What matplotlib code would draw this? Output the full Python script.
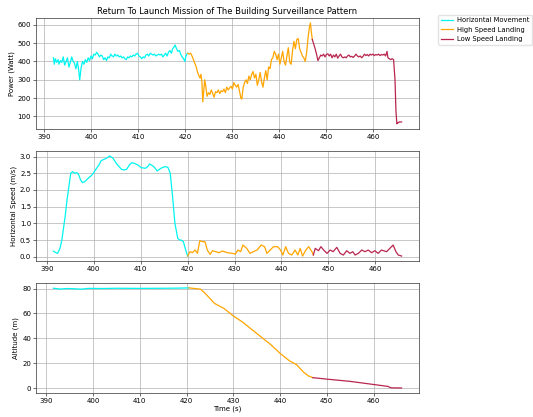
"""Return-to-launch mission plot: power, horizontal speed and altitude."""

from __future__ import annotations

import matplotlib

matplotlib.use("Agg")

import matplotlib.pyplot as plt

# ---- data ----
phases = ["Horizontal Movement", "High Speed Landing", "Low Speed Landing"]
phase_colors = ["#00f5f0", "#ffa500", "#b8264e"]

# power (Watt)
hm_power_t = [
    391.9, 392.1, 392.3, 392.6, 392.9, 393.1, 393.4, 393.7, 394.0, 394.3,
    394.6, 394.9, 395.2, 395.5, 395.8, 396.1, 396.4, 396.7, 397.0, 397.3,
    397.5, 397.8, 398.1, 398.4, 398.7, 399.0, 399.3, 399.6, 399.9, 400.2,
    400.5, 400.8, 401.1, 401.4, 401.7, 402.0, 402.3, 402.6, 402.9, 403.2,
    403.5, 403.8, 404.1, 404.4, 404.7, 405.0, 405.3, 405.6, 405.9, 406.2,
    406.5, 406.8, 407.1, 407.4, 407.7, 408.0, 408.3, 408.6, 408.9, 409.2,
    409.5, 409.8, 410.1, 410.4, 410.7, 411.0, 411.3, 411.6, 411.9, 412.2,
    412.5, 412.8, 413.1, 413.4, 413.7, 414.0, 414.3, 414.6, 414.9, 415.2,
    415.5, 415.8, 416.1, 416.4, 416.7, 417.0, 417.3, 417.6, 417.8, 418.1,
    418.4, 418.7, 419.0, 419.3, 419.6, 419.9, 420.1, 420.3, 420.5,
]
hm_power = [
    420, 385, 415, 395, 410, 385, 405, 395, 425, 380,
    400, 420, 370, 395, 425, 400, 390, 360, 400, 350,
    300, 365, 400, 385, 410, 395, 420, 405, 430, 415,
    440, 435, 450, 440, 425, 435, 430, 410, 420, 405,
    425, 420, 440, 430, 425, 440, 430, 435, 425, 430,
    420, 425, 415, 410, 425, 420, 430, 425, 435, 430,
    440, 445, 430, 425, 415, 425, 420, 435, 440, 430,
    445, 440, 435, 440, 430, 435, 440, 435, 440, 425,
    435, 445, 430, 450, 460, 445, 470, 480, 490, 470,
    455, 460, 440, 425, 415, 400, 430, 440, 445,
]
hsl_power_t = [
    420.5, 420.8, 421.1, 421.4, 421.7, 422.0, 422.3, 422.6, 422.9, 423.1,
    423.3, 423.5, 423.7, 423.9, 424.1, 424.3, 424.6, 424.9, 425.2, 425.5,
    425.8, 426.1, 426.4, 426.7, 427.0, 427.3, 427.6, 427.9, 428.2, 428.5,
    428.8, 429.1, 429.4, 429.7, 430.0, 430.3, 430.6, 430.9, 431.2, 431.5,
    431.8, 432.0, 432.3, 432.6, 432.9, 433.2, 433.5, 433.8, 434.1, 434.4,
    434.7, 435.0, 435.3, 435.6, 435.9, 436.2, 436.5, 436.8, 437.1, 437.4,
    437.7, 438.0, 438.3, 438.6, 438.9, 439.2, 439.5, 439.8, 440.1, 440.4,
    440.7, 441.0, 441.3, 441.6, 441.9, 442.2, 442.5, 442.8, 443.1, 443.4,
    443.7, 444.0, 444.3, 444.6, 444.9, 445.2, 445.5, 445.8, 446.1, 446.4,
    446.6, 446.8, 447.0,
]
hsl_power = [
    445, 440, 445, 430, 410, 390, 370, 340, 320, 310,
    330, 290, 180, 240, 300, 270, 210, 230, 220, 245,
    225, 205, 235, 230, 245, 225, 240, 235, 250, 230,
    260, 245, 255, 265, 250, 285, 270, 260, 275, 240,
    200, 195, 260, 285, 300, 280, 320, 300, 330, 345,
    310, 330, 270, 300, 340, 290, 260, 310, 350, 300,
    370, 360, 410, 420, 455, 440, 410, 440, 385, 420,
    455, 400, 380, 430, 475, 395, 385, 460, 510, 470,
    520, 525, 470, 450, 430, 420, 400, 450, 530, 590,
    610, 560, 520,
]
lsl_power_t = [
    447.0, 447.3, 447.6, 447.9, 448.2, 448.5, 448.8, 449.1, 449.4, 449.7,
    450.0, 450.3, 450.6, 450.9, 451.2, 451.5, 451.8, 452.1, 452.4, 452.7,
    453.0, 453.3, 453.6, 453.9, 454.2, 454.5, 454.8, 455.1, 455.4, 455.7,
    456.0, 456.3, 456.6, 456.9, 457.2, 457.5, 457.8, 458.1, 458.4, 458.7,
    459.0, 459.3, 459.6, 459.9, 460.2, 460.5, 460.8, 461.1, 461.4, 461.7,
    462.0, 462.3, 462.6, 462.9, 463.1, 463.4, 463.7, 464.0, 464.3, 464.6,
    464.8, 465.0, 465.2, 465.5, 465.8, 466.0,
]
lsl_power = [
    520, 495, 470, 440, 405, 420, 435, 430, 440, 425,
    438, 442, 430, 440, 420, 435, 425, 440, 418, 430,
    440, 425, 420, 425, 420, 430, 435, 425, 428, 422,
    430, 440, 430, 425, 430, 420, 428, 440, 432, 438,
    430, 440, 435, 440, 432, 438, 435, 440, 432, 438,
    435, 440, 430, 455, 420, 415, 410, 415, 410, 300,
    130, 60, 65, 70, 70, 70,
]

# horizontal speed (m/s)
hm_speed_t = [
    391.4, 391.8, 392.3, 392.8, 393.2, 393.6, 393.9, 394.3, 394.6, 395.1,
    395.5, 396.0, 396.4, 396.8, 397.2, 397.6, 398.1, 398.8, 399.4, 399.9,
    400.6, 401.1, 401.6, 402.2, 402.7, 403.4, 404.1, 404.8, 405.4, 405.9,
    406.5, 407.0, 407.6, 408.1, 408.6, 409.4, 410.1, 411.0, 411.5, 411.9,
    412.6, 413.1, 413.5, 414.3, 414.8, 415.2, 415.8, 416.3, 416.8, 417.3,
    417.9, 418.3, 418.6, 419.1, 419.6, 420.0,
]
hm_speed = [
    0.17, 0.13, 0.10, 0.25, 0.50, 0.90, 1.20, 1.70, 2.00, 2.50,
    2.55, 2.50, 2.52, 2.45, 2.30, 2.22, 2.25, 2.35, 2.42, 2.50,
    2.65, 2.75, 2.88, 2.92, 2.95, 3.02, 2.95, 2.80, 2.70, 2.62,
    2.60, 2.62, 2.75, 2.82, 2.80, 2.75, 2.67, 2.65, 2.70, 2.78,
    2.72, 2.65, 2.57, 2.65, 2.68, 2.70, 2.68, 2.50, 1.80, 1.00,
    0.55, 0.50, 0.50, 0.45, 0.20, 0.02,
]
hsl_speed_t = [
    420.0, 420.5, 421.0, 421.6, 422.1, 422.6, 423.2, 423.7, 424.2, 424.8,
    425.3, 426.0, 426.7, 427.4, 428.5, 429.5, 430.2, 430.7, 431.3, 431.8,
    432.6, 433.3, 434.0, 434.8, 435.7, 436.4, 436.9, 437.6, 438.3, 439.2,
    439.8, 440.3, 440.9, 441.5, 442.2, 442.9, 443.5, 444.0, 444.5, 445.2,
    445.8, 446.5, 446.8,
]
hsl_speed = [
    0.02, 0.15, 0.12, 0.20, 0.10, 0.48, 0.45, 0.45, 0.20, 0.07,
    0.18, 0.15, 0.12, 0.17, 0.12, 0.10, 0.08, 0.20, 0.15, 0.35,
    0.25, 0.10, 0.15, 0.20, 0.35, 0.30, 0.10, 0.20, 0.30, 0.30,
    0.20, 0.05, 0.30, 0.10, 0.05, 0.20, 0.05, 0.25, 0.02, 0.20,
    0.30, 0.15, 0.05,
]
lsl_speed_t = [
    446.8, 447.2, 447.9, 448.4, 449.0, 449.7, 450.4, 451.0, 451.8, 452.5,
    453.2, 453.9, 454.6, 455.2, 455.7, 456.4, 457.1, 457.8, 458.5, 459.2,
    459.9, 460.6, 461.3, 462.4, 463.1, 463.8, 464.4, 464.9, 465.6,
]
lsl_speed = [
    0.05, 0.25, 0.18, 0.30, 0.20, 0.10, 0.20, 0.15, 0.28, 0.10,
    0.05, 0.18, 0.10, 0.15, 0.05, 0.10, 0.20, 0.15, 0.20, 0.12,
    0.18, 0.10, 0.20, 0.15, 0.25, 0.35, 0.15, 0.05, 0.02,
]

# altitude (m)
hm_alt_t = [391.5, 393.0, 394.5, 396.0, 397.5, 399.0, 402.0, 405.0, 410.0, 415.0, 418.0, 420.5]
hm_alt = [80.2, 79.6, 80.0, 79.8, 79.5, 80.1, 80.0, 80.2, 80.1, 80.2, 80.3, 80.5]
hsl_alt_t = [
    420.5, 423.0, 424.0, 426.0, 428.0, 430.0, 432.0, 434.0, 436.0, 438.0,
    440.0, 442.0, 443.5, 445.0, 446.0, 447.0,
]
hsl_alt = [80.5, 79.5, 76.0, 68.0, 64.0, 58.0, 53.0, 47.0, 41.0, 35.0, 28.0, 22.0, 19.0, 13.0, 10.0, 8.5]
lsl_alt_t = [447.0, 450.0, 455.0, 460.0, 462.0, 463.0, 463.8, 466.0]
lsl_alt = [8.5, 7.3, 5.5, 3.0, 2.0, 1.5, 0.3, 0.2]

FS = 5.0


def style_axis(ax, ylabel: str) -> None:
    """Grid, ticks and label setup shared by the three panels."""
    ax.grid(True, color="#b0b0b0", linewidth=0.5)
    ax.set_axisbelow(True)
    ax.tick_params(labelsize=FS, width=0.4, length=2, pad=1.5)
    for spine in ax.spines.values():
        spine.set_linewidth(0.5)
        spine.set_color("#333333")
    ax.set_ylabel(ylabel, fontsize=FS, labelpad=2)
    ax.set_xticks([390, 400, 410, 420, 430, 440, 450, 460])


def main() -> None:
    fig = plt.figure(figsize=(5.33, 4.17), dpi=100)
    ax_power = fig.add_axes([0.0675, 0.691, 0.7186, 0.266])
    ax_speed = fig.add_axes([0.0675, 0.374, 0.7186, 0.264])
    ax_alt = fig.add_axes([0.0675, 0.0576, 0.7186, 0.264])

    power = [(hm_power_t, hm_power), (hsl_power_t, hsl_power), (lsl_power_t, lsl_power)]
    speed = [(hm_speed_t, hm_speed), (hsl_speed_t, hsl_speed), (lsl_speed_t, lsl_speed)]
    alt = [(hm_alt_t, hm_alt), (hsl_alt_t, hsl_alt), (lsl_alt_t, lsl_alt)]

    for (t, v), label, color in zip(power, phases, phase_colors):
        ax_power.plot(t, v, color=color, linewidth=0.9, label=label)
    for (t, v), color in zip(speed, phase_colors):
        ax_speed.plot(t, v, color=color, linewidth=0.9)
    for (t, v), color in zip(alt, phase_colors):
        ax_alt.plot(t, v, color=color, linewidth=0.9)

    style_axis(ax_power, "Power (Watt)")
    style_axis(ax_speed, "Horizontal Speed (m/s)")
    style_axis(ax_alt, "Altitude (m)")

    ax_power.set_yticks([100, 200, 300, 400, 500, 600])
    ax_speed.set_yticks([0.0, 0.5, 1.0, 1.5, 2.0, 2.5, 3.0])
    ax_alt.set_yticks([0, 20, 40, 60, 80])

    ax_power.set_title(
        "Return To Launch Mission of The Building Surveillance Pattern",
        fontsize=6.0,
        pad=3,
    )
    ax_alt.set_xlabel("Time (s)", fontsize=FS, labelpad=1)

    ax_power.legend(
        loc="upper left",
        bbox_to_anchor=(1.05, 1.03),
        borderaxespad=0,
        fontsize=4.9,
        frameon=True,
        edgecolor="#dddddd",
        handlelength=1.8,
        handletextpad=0.6,
        labelspacing=0.5,
    )

    fig.savefig("out.png", dpi=100)
    plt.close(fig)


if __name__ == "__main__":
    main()
